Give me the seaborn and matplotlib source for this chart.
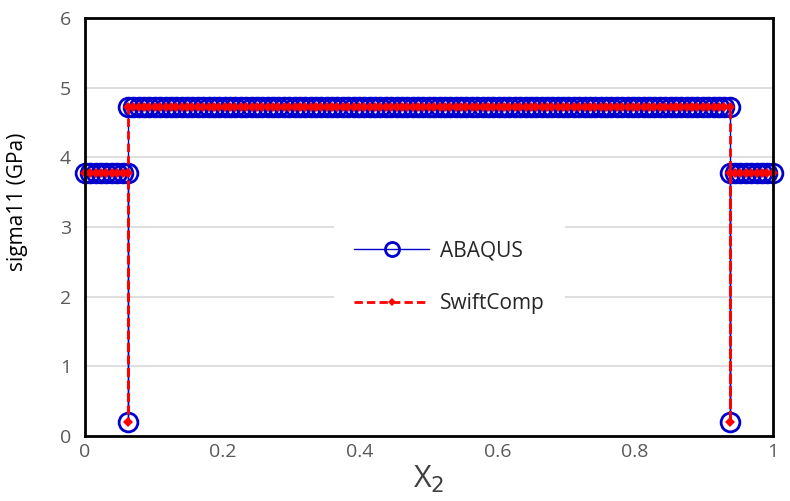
import numpy as np
import pandas as pd
import matplotlib
matplotlib.use("Agg")
import matplotlib.pyplot as plt
import seaborn as sns

# -------------------------------
# Data
# -------------------------------
step = 1 / 128  # mesh spacing along x2

edge_val = 3.78    # plateau at both edges
mid_val = 4.72     # central plateau
dip_val = 0.20     # single low point at each interface

x_left = [i * step for i in range(0, 9)]          # 0 .. 0.0625
x_mid = [i * step for i in range(8, 121)]         # 0.0625 .. 0.9375
x_right = [i * step for i in range(120, 129)]     # 0.9375 .. 1

x2 = x_left + [0.0625] + x_mid + [0.9375] + x_right
abaqus = ([edge_val] * len(x_left) + [dip_val] + [mid_val] * len(x_mid)
          + [dip_val] + [edge_val] * len(x_right))
swiftcomp = list(abaqus)

df = pd.DataFrame({"x2": x2, "ABAQUS": abaqus, "SwiftComp": swiftcomp})

# -------------------------------
# Plot
# -------------------------------
sns.set_style("white")
plt.rcParams["font.family"] = ["Open Sans", "DejaVu Sans"]

fig = plt.figure(figsize=(7.9, 5.01), dpi=100)
ax = fig.add_axes([0.1076, 0.1297, 0.8704, 0.8343])

sns.lineplot(data=df, x="x2", y="ABAQUS", sort=False, estimator=None, ax=ax,
             color="#0000CC", lw=1.0, marker="o", markersize=13.5,
             markerfacecolor="none", markeredgecolor="#0000CC",
             markeredgewidth=2.0, label="ABAQUS", clip_on=False)
sns.lineplot(data=df, x="x2", y="SwiftComp", sort=False, estimator=None, ax=ax,
             color="#FF0000", lw=2.0, linestyle=(0, (3, 1.5)), marker="D",
             markersize=5, markeredgewidth=0, label="SwiftComp", clip_on=False)

ax.set_xlim(0, 1)
ax.set_ylim(0, 6)
ax.set_xticks([0, 0.2, 0.4, 0.6, 0.8, 1])
ax.set_xticklabels(["0", "0.2", "0.4", "0.6", "0.8", "1"])
ax.set_yticks(range(0, 7))

ax.yaxis.grid(True, color="#D9D9D9", lw=1.2)
ax.xaxis.grid(False)
ax.set_axisbelow(True)

for s in ax.spines.values():
    s.set_color("black")
    s.set_linewidth(2)

ax.tick_params(axis="both", direction="in", length=6, width=1.5,
               colors="black", labelcolor="#595959", labelsize=14)
ax.tick_params(axis="x", pad=5)
ax.tick_params(axis="y", pad=10)

ax.set_xlabel("X$_2$", fontsize=22, color="#404040", labelpad=2)
ax.set_ylabel("sigma11 (GPa)", fontsize=15, color="black")
ax.yaxis.set_label_coords(-0.083, 0.56)

leg = ax.legend(loc="center", bbox_to_anchor=(0.53, 0.38), frameon=True,
                fontsize=15, handlelength=3.6, labelspacing=1.5,
                borderpad=1.0, handletextpad=0.5, borderaxespad=0,
                markerscale=0.75)
leg.get_frame().set_edgecolor("none")
leg.get_frame().set_facecolor("white")
leg.get_frame().set_alpha(1)

fig.savefig("out.png", dpi=100)
